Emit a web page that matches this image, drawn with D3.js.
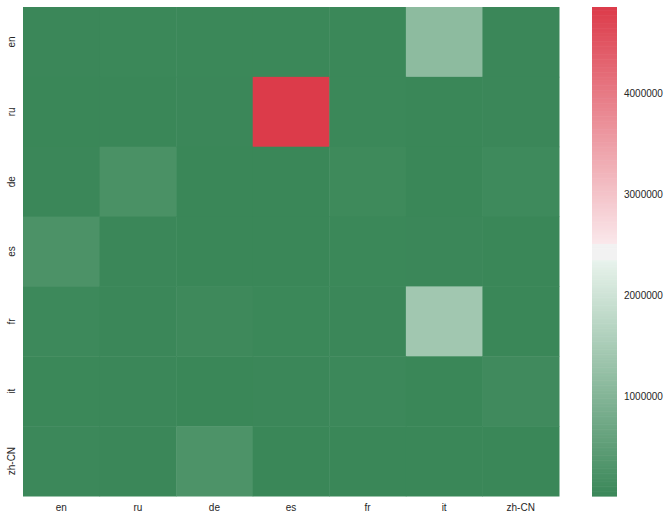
<!DOCTYPE html>
<html>
<head>
<meta charset="utf-8">
<script src="https://cdn.jsdelivr.net/npm/d3@7"></script>
<style>
  body { margin: 0; background: #fff; }
  text { font-family: "Liberation Sans", Arial, sans-serif; }
</style>
</head>
<body>
<div id="container"></div>
<script>
// languages on both axes
const langs = ["en", "ru", "de", "es", "fr", "it", "zh-CN"];

// one row per source language (rows top to bottom), columns = langs
const rowEn = [20000, 25000, 22000, 30000, 28000, 1130000, 20000];
const rowRu = [15000, 12000, 18000, 4860000, 25000, 15000, 20000];
const rowDe = [20000, 220000, 15000, 12000, 65000, 15000, 70000];
const rowEs = [250000, 20000, 15000, 10000, 30000, 20000, 15000];
const rowFr = [55000, 20000, 60000, 30000, 20000, 1400000, 15000];
const rowIt = [25000, 20000, 15000, 18000, 40000, 12000, 85000];
const rowZh = [35000, 20000, 270000, 15000, 15000, 12000, 15000];
const rows = [rowEn, rowRu, rowDe, rowEs, rowFr, rowIt, rowZh];

const cbarTicks = [1000000, 2000000, 3000000, 4000000];

const W = 670, H = 519;
const margin = {top: 7, left: 23},
    width = 536,
    height = 489;

const svg = d3.select("#container")
  .append("svg")
    .attr("width", W)
    .attr("height", H);

const g = svg.append("g")
    .attr("transform", `translate(${margin.left},${margin.top})`);

// flatten into cells
const cells = [];
rows.forEach((r, i) => r.forEach((v, j) => cells.push({row: langs[i], col: langs[j], value: v})));

const vmin = d3.min(cells, d => d.value), vmax = d3.max(cells, d => d.value);

// diverging green -> light gray -> red (seaborn style)
const color = d3.scaleLinear()
  .domain([0, 0.483, 0.483, 0.516, 0.516, 1].map(t => vmin + t * (vmax - vmin)))
  .range(["#3a8758", "#e8f3ec", "#f2f2f2", "#f2f2f2", "#fae8eb", "#dc3b4a"])
  .interpolate(d3.interpolateRgb)
  .clamp(true);

const x = d3.scaleBand().domain(langs).range([0, width]);
const y = d3.scaleBand().domain(langs).range([0, height]);

g.selectAll("rect.cell")
  .data(cells)
  .join("rect")
    .attr("class", "cell")
    .attr("x", d => x(d.col))
    .attr("y", d => y(d.row))
    .attr("width", x.bandwidth() + 0.5)
    .attr("height", y.bandwidth() + 0.5)
    .attr("fill", d => color(d.value));

// x axis
const xAxis = g.append("g")
  .attr("transform", `translate(0,${height})`)
  .call(d3.axisBottom(x).tickSize(0).tickPadding(8));
xAxis.select(".domain").remove();
xAxis.selectAll("text").attr("font-size", 10).attr("fill", "#262626")
  .style("font-family", "'Liberation Sans', Arial, sans-serif");

// y axis, labels rotated
const yAxis = g.append("g")
  .call(d3.axisLeft(y).tickSize(0).tickPadding(0));
yAxis.select(".domain").remove();
yAxis.selectAll("text")
  .attr("font-size", 10).attr("fill", "#262626")
  .style("font-family", "'Liberation Sans', Arial, sans-serif")
  .attr("x", 0).attr("dy", 0)
  .attr("transform", "translate(-8,0) rotate(-90)")
  .attr("text-anchor", "middle")
  .attr("dominant-baseline", "auto");

// colorbar
const cb = {x: 592, y: 7, w: 25, h: 489};
const cy = d3.scaleLinear().domain([vmin, vmax]).range([cb.y + cb.h, cb.y]);
const steps = d3.range(0, 300);
svg.append("g").selectAll("rect")
  .data(steps)
  .join("rect")
    .attr("x", cb.x)
    .attr("width", cb.w)
    .attr("y", i => cb.y + cb.h - (i + 1) * cb.h / steps.length)
    .attr("height", cb.h / steps.length + 0.6)
    .attr("fill", i => color(vmin + (i + 0.5) / steps.length * (vmax - vmin)));

const cAxis = svg.append("g")
  .attr("transform", `translate(${cb.x + cb.w},0)`)
  .call(d3.axisRight(cy).tickValues(cbarTicks).tickSize(0).tickPadding(7).tickFormat(d3.format("d")));
cAxis.select(".domain").remove();
cAxis.selectAll("text").attr("font-size", 10).attr("fill", "#262626")
  .style("font-family", "'Liberation Sans', Arial, sans-serif");
</script>
</body>
</html>
